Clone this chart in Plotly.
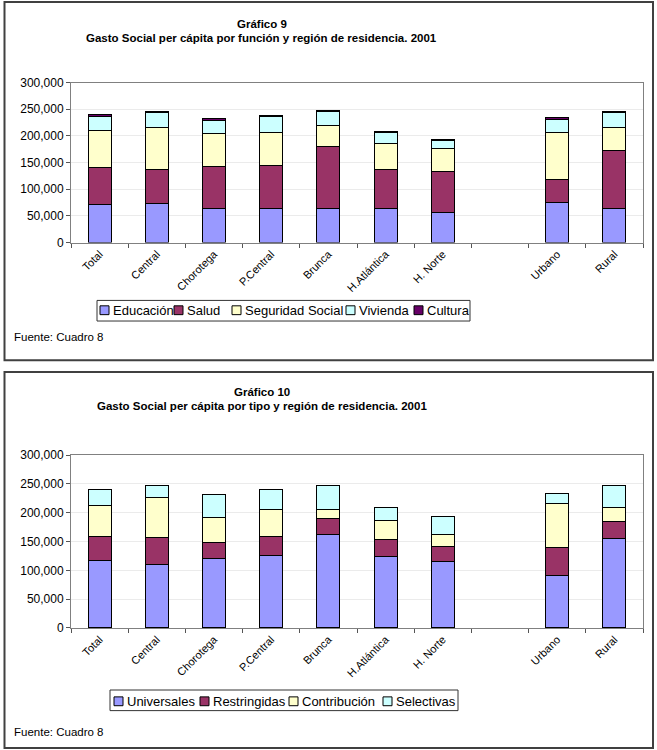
import plotly.graph_objects as go

W, H = 657, 750

categories = ["Total", "Central", "Chorotega", "P.Central", "Brunca",
              "H.Atlántica", "H. Norte", " ", "Urbano", "Rural"]
y_ticks = [0, 50000, 100000, 150000, 200000, 250000, 300000]

# Gráfico 9: gasto social per cápita por función
educacion = [70500, 73600, 63200, 64400, 64400, 63200, 56400, None, 74800, 63800]
salud = [70700, 62600, 79100, 79800, 115400, 73000, 77300, None, 43600, 109200]
seguridad_social = [68600, 79800, 62600, 62600, 39800, 50300, 41800, None, 87100, 42300]
vivienda = [26300, 27600, 24600, 29300, 25800, 19600, 15900, None, 25800, 28300]
cultura = [3200, 3000, 2400, 2900, 2500, 2500, 2500, None, 3100, 3000]

# Gráfico 10: gasto social per cápita por tipo
universales = [117100, 109800, 120000, 126100, 161900, 123400, 115900, None, 90300, 154600]
restringidas = [40900, 47700, 29000, 33100, 27300, 29500, 25100, None, 48900, 30700]
contribucion = [55100, 69200, 42600, 46000, 16500, 33600, 20400, None, 77300, 23300]
selectivas = [26700, 21100, 40900, 34600, 42100, 22600, 32900, None, 17000, 38600]

names1 = ["Educación", "Salud", "Seguridad Social", "Vivienda", "Cultura"]
series1 = [educacion, salud, seguridad_social, vivienda, cultura]
colors1 = ["#9999FF", "#993366", "#FFFFCC", "#CCFFFF", "#660066"]

names2 = ["Universales", "Restringidas", "Contribución", "Selectivas"]
series2 = [universales, restringidas, contribucion, selectivas]
colors2 = ["#9999FF", "#993366", "#FFFFCC", "#CCFFFF"]

FONT = "Arial, 'Liberation Sans', Helvetica, sans-serif"


def px(x):
    return x / W


def py(y):
    return 1 - y / H


fig = go.Figure()

for name, vals, col in zip(names1, series1, colors1):
    fig.add_trace(go.Bar(x=categories, y=vals, name=name, marker_color=col,
                         marker_line_color="black", marker_line_width=1,
                         xaxis="x", yaxis="y", showlegend=False))
for name, vals, col in zip(names2, series2, colors2):
    fig.add_trace(go.Bar(x=categories, y=vals, name=name, marker_color=col,
                         marker_line_color="black", marker_line_width=1,
                         xaxis="x2", yaxis="y2", showlegend=False))

xaxis_common = dict(type="category", tickson="boundaries", ticks="outside",
                    ticklen=4, tickcolor="#555555", tickangle=-45,
                    showline=True, linecolor="#808080", linewidth=1, mirror=True,
                    showgrid=False, tickfont=dict(family=FONT, size=11, color="black"),
                    categoryorder="array", categoryarray=categories)
yaxis_common = dict(range=[0, 300000], tickvals=y_ticks, tickformat=",d",
                    ticks="outside", ticklen=4, tickcolor="#555555",
                    showline=True, linecolor="#808080", linewidth=1, mirror=True,
                    showgrid=True, gridcolor="#EBEBEB", gridwidth=1, zeroline=False,
                    tickfont=dict(family=FONT, size=12, color="black"))

fig.update_layout(
    width=W, height=H,
    margin=dict(l=0, r=0, t=0, b=0),
    paper_bgcolor="white", plot_bgcolor="white",
    barmode="stack", bargap=0.6,
    font=dict(family=FONT, color="black"),
    xaxis=dict(domain=[px(71), px(643)], anchor="y", **xaxis_common),
    yaxis=dict(domain=[py(240), py(77)], anchor="x", **yaxis_common),
    xaxis2=dict(domain=[px(71), px(643)], anchor="y2", **xaxis_common),
    yaxis2=dict(domain=[py(632.7), py(456.7)], anchor="x2", **yaxis_common),
)

shapes = []
annotations = []

# outer frames
shapes.append(dict(type="rect", xref="paper", yref="paper",
                   x0=px(4.5), x1=px(653), y0=py(360), y1=py(-5),
                   line=dict(color="#404040", width=2), fillcolor="rgba(0,0,0,0)",
                   layer="above"))
shapes.append(dict(type="rect", xref="paper", yref="paper",
                   x0=px(4.5), x1=px(653), y0=py(755), y1=py(372),
                   line=dict(color="#404040", width=2), fillcolor="rgba(0,0,0,0)",
                   layer="above"))

# titles
def title(text, yc):
    annotations.append(dict(text=text, xref="paper", yref="paper",
                            x=px(261.5), y=py(yc), xanchor="center", yanchor="middle",
                            showarrow=False,
                            font=dict(family=FONT, size=11.5, color="black")))

title("<b>Gráfico 9</b>", 17)
title("<b>Gasto Social per cápita por función y región de residencia. 2001</b>", 31.5)
title("<b>Gráfico 10</b>", 392)
title("<b>Gasto Social per cápita por tipo y región de residencia. 2001</b>", 406.5)

# source notes
for yc in (336, 739):
    annotations.append(dict(text="Fuente: Cuadro 8", xref="paper", yref="paper",
                            x=px(12), y=py(yc), xanchor="left", yanchor="middle",
                            showarrow=False,
                            font=dict(family=FONT, size=11.5, color="black")))


# legends drawn as boxed rows (Excel style)
def legend(names, colors, box, sq_x, yc):
    x0, x1, y0, y1 = box
    shapes.append(dict(type="rect", xref="paper", yref="paper",
                       x0=px(x0), x1=px(x1), y0=py(y1), y1=py(y0),
                       line=dict(color="#333333", width=1), fillcolor="white"))
    for name, col, sx in zip(names, colors, sq_x):
        shapes.append(dict(type="rect", xref="paper", yref="paper",
                           x0=px(sx), x1=px(sx + 9), y0=py(yc + 4.5), y1=py(yc - 4.5),
                           line=dict(color="black", width=1), fillcolor=col))
        annotations.append(dict(text=name, xref="paper", yref="paper",
                                x=px(sx + 10.5), y=py(yc), xanchor="left", yanchor="middle",
                                showarrow=False,
                                font=dict(family=FONT, size=13, color="black")))


legend(names1, colors1, (97, 470, 299, 320), [100, 174, 232, 346, 414], 309)
legend(names2, colors2, (110, 458, 696, 717), [114, 200, 289, 383], 707.5)

fig.update_layout(shapes=shapes, annotations=annotations)

fig.write_html("out.html")
